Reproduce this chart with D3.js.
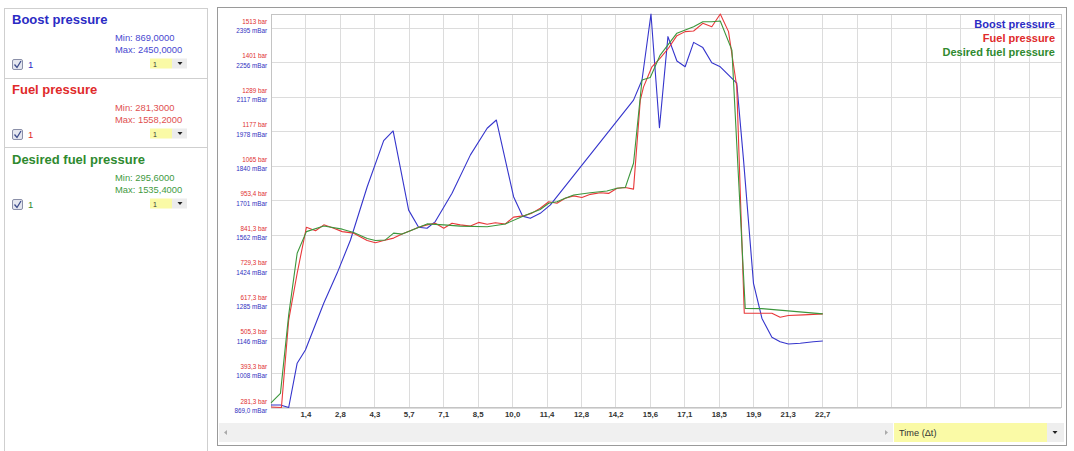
<!DOCTYPE html>
<html><head><meta charset="utf-8">
<script src="https://cdn.jsdelivr.net/npm/d3@7"></script>
<style>
html,body{margin:0;padding:0;background:#fff;}
svg{display:block;font-family:Arial,"Liberation Sans",sans-serif;}
</style></head><body>
<svg id="c" width="1074" height="451"></svg>
<script>
// ---------- data ----------
const seriesNames = ["Boost pressure", "Fuel pressure", "Desired fuel pressure"];
const seriesMin = ["869,0000", "281,3000", "295,6000"];
const seriesMax = ["2450,0000", "1558,2000", "1535,4000"];
const seriesColors = ["#2b2bc4", "#e02a2a", "#2f8a2f"];
const lineColors = ["#3535cc", "#e8383a", "#3c963c"];

// [time s, mBar]
const boostData = [[0.00,879],[0.39,879],[0.73,869],[1.08,1047],[1.42,1100],[2.18,1289],[2.73,1409],[3.28,1542],[3.97,1756],[4.65,1941],[5.04,1980],[5.68,1662],[6.09,1593],[6.44,1589],[6.78,1616],[7.47,1730],[8.23,1884],[8.92,1991],[9.30,2024],[10.01,1716],[10.38,1638],[10.70,1629],[11.11,1649],[11.53,1683],[14.96,2104],[15.31,2185],[15.68,2450],[16.03,1993],[16.38,2359],[16.75,2261],[17.09,2238],[17.44,2336],[17.82,2315],[18.19,2254],[18.54,2238],[19.22,2172],[19.50,1863],[19.91,1368],[20.26,1227],[20.67,1151],[21.01,1133],[21.35,1124],[21.84,1127],[22.38,1133],[22.77,1136]];
// [time s, bar]
const fuelData = [[0.00,283],[0.43,281.3],[0.73,565],[1.08,717],[1.46,866],[1.84,855],[2.18,874],[2.59,863],[2.94,852],[3.41,847],[3.97,823],[4.31,816],[4.65,823],[5.06,831],[5.41,844],[5.75,855],[6.09,866],[6.44,874],[6.78,879],[7.13,863],[7.47,879],[7.81,874],[8.23,870],[8.57,882],[8.92,876],[9.26,881],[9.67,877],[10.01,899],[10.42,903],[10.77,912],[11.11,928],[11.46,949],[11.80,944],[12.14,960],[12.49,968],[12.83,963],[13.18,973],[13.59,978],[13.93,976],[14.28,993],[14.62,995],[14.96,990],[15.24,1279],[15.37,1321],[15.72,1387],[16.06,1415],[16.40,1447],[16.75,1488],[17.09,1501],[17.44,1503],[17.82,1528],[18.19,1517],[18.54,1558.2],[18.88,1501],[19.22,1322],[19.53,587],[19.91,587],[20.26,587],[20.67,587],[21.01,574],[21.35,580],[21.97,582],[22.77,585]];
// [time s, bar]
const desiredData = [[0.00,296],[0.39,327],[0.73,582],[1.08,782],[1.46,852],[2.18,870],[2.94,860],[3.41,849],[3.97,830],[4.31,823],[4.72,825],[5.06,847],[5.41,844],[5.75,855],[6.44,877],[7.13,874],[7.81,870],[8.92,868],[9.67,877],[10.42,903],[11.11,924],[11.46,944],[11.80,949],[12.14,960],[12.49,971],[13.18,978],[13.86,984],[14.28,993],[14.62,995],[14.96,1074],[15.31,1344],[15.65,1352],[16.06,1425],[16.75,1496],[17.44,1517],[17.82,1533],[18.19,1533],[18.54,1535.4],[19.02,1441],[19.57,603],[20.26,602],[22.77,585]];

const fuelTicks = [281.3,393.3,505.3,617.3,729.3,841.3,953.4,1065,1177,1289,1401,1513];
const fuelTickLabels = ["281,3 bar","393,3 bar","505,3 bar","617,3 bar","729,3 bar","841,3 bar","953,4 bar","1065 bar","1177 bar","1289 bar","1401 bar","1513 bar"];
const boostTicks = [869,1008,1146,1285,1424,1562,1701,1840,1978,2117,2256,2395];
const boostTickLabels = ["869,0 mBar","1008 mBar","1146 mBar","1285 mBar","1424 mBar","1562 mBar","1701 mBar","1840 mBar","1978 mBar","2117 mBar","2256 mBar","2395 mBar"];
const xTickStep = 1.4215;
const xTickLabels = ["1,4","2,8","4,3","5,7","7,1","8,5","10,0","11,4","12,8","14,2","15,6","17,1","18,5","19,9","21,3","22,7"];
const xAxisTitle = "Time (\u0394t)";

// ---------- layout ----------
const svg = d3.select("#c");
const P = {l:271, r:1061, t:14, b:407.5};
const x = d3.scaleLinear([0, 32.6], [P.l, P.r]);
const yFuel = d3.scaleLinear([281.3, 1558.2], [P.b, P.t]);
const yBoost = d3.scaleLinear([869, 2450], [P.b, P.t]);

// left panel
svg.append("rect").attr("x",4.5).attr("y",8.5).attr("width",203).attr("height",450)
  .attr("fill","#fff").attr("stroke","#cfcfcf");
[78.5,147.5].forEach(yy => svg.append("line").attr("x1",5).attr("x2",207).attr("y1",yy).attr("y2",yy).attr("stroke","#cfcfcf"));

const minMaxColors = ["#4848d0","#e05050","#3f9a3f"];
seriesNames.forEach((name,i) => {
  const oy = i*70;
  const g = svg.append("g").attr("transform",`translate(0,${oy})`);
  g.append("text").attr("x",12).attr("y",24).attr("font-size",13).attr("font-weight","bold")
    .attr("fill",seriesColors[i]).text(name);
  g.append("text").attr("x",115).attr("y",40.5).attr("font-size",9.4).attr("fill",minMaxColors[i]).text("Min: "+seriesMin[i]);
  g.append("text").attr("x",115).attr("y",52.5).attr("font-size",9.4).attr("fill",minMaxColors[i]).text("Max: "+seriesMax[i]);
  // checkbox
  g.append("rect").attr("x",12.5).attr("y",59.5).attr("width",10).attr("height",10).attr("rx",1.5)
    .attr("fill","#e4e6ef").attr("stroke","#8a8fa8");
  g.append("path").attr("d","M14.5,64.5 L17,67.5 L21,61").attr("fill","none").attr("stroke","#3b4a8a").attr("stroke-width",1.3);
  g.append("text").attr("x",28).attr("y",68).attr("font-size",9.5).attr("fill",seriesColors[i]).text("1");
  // dropdown
  g.append("rect").attr("x",150).attr("y",58.5).attr("width",22).attr("height",10).attr("fill","#fafaa6");
  g.append("rect").attr("x",172).attr("y",58.5).attr("width",15).attr("height",10).attr("fill","#ececec");
  g.append("text").attr("x",153).attr("y",66.5).attr("font-size",7).attr("fill","#333").text("1");
  g.append("path").attr("d","M177.5,62 L182.5,62 L180,65 Z").attr("fill","#222");
});

// chart panel
svg.append("rect").attr("x",217.5).attr("y",7.5).attr("width",849).attr("height",438)
  .attr("fill","#fff").attr("stroke","#9a9a9a");

// grid
const gridG = svg.append("g");
fuelTicks.forEach(v => gridG.append("line").attr("x1",P.l).attr("x2",P.r)
  .attr("y1",Math.round(yFuel(v))+0.5).attr("y2",Math.round(yFuel(v))+0.5).attr("stroke","#dcdcdc"));
const xGridVals = d3.range(1, 23).map(k => k*xTickStep);
xGridVals.forEach(v => gridG.append("line").attr("x1",Math.round(x(v))+0.5).attr("x2",Math.round(x(v))+0.5)
  .attr("y1",P.t).attr("y2",P.b).attr("stroke","#dcdcdc"));
svg.append("rect").attr("x",P.l+0.5).attr("y",P.t+0.5).attr("width",P.r-P.l).attr("height",P.b-P.t-0.5)
  .attr("fill","none").attr("stroke","#c4c4c4");

// y axes (two labels per gridline)
const yAxFuel = d3.axisLeft(yFuel).tickValues(fuelTicks).tickSize(0).tickPadding(4)
  .tickFormat((d,i) => fuelTickLabels[i]);
const gF = svg.append("g").attr("transform",`translate(${P.l},0)`).call(yAxFuel);
gF.select(".domain").remove();
gF.selectAll("text").attr("dy",null).attr("y",-4.5).attr("font-size",6.3).attr("fill","#e03030")
  .attr("font-family","Arial,'Liberation Sans',sans-serif");

const yAxBoost = d3.axisLeft(yBoost).tickValues(boostTicks).tickSize(0).tickPadding(4)
  .tickFormat((d,i) => boostTickLabels[i]);
const gB = svg.append("g").attr("transform",`translate(${P.l},0)`).call(yAxBoost);
gB.select(".domain").remove();
gB.selectAll("text").attr("dy",null).attr("y",4.8).attr("font-size",6.3).attr("fill","#3030c0")
  .attr("font-family","Arial,'Liberation Sans',sans-serif");

// x axis
const xTickVals = xTickLabels.map((_,i) => (i+1)*xTickStep);
const xAx = d3.axisBottom(x).tickValues(xTickVals).tickSize(0).tickPadding(4)
  .tickFormat((d,i) => xTickLabels[i]);
const gX = svg.append("g").attr("transform",`translate(0,${P.b})`).call(xAx);
gX.select(".domain").remove();
gX.selectAll("text").attr("font-size",7.8).attr("font-weight","bold").attr("fill","#333")
  .attr("font-family","Arial,'Liberation Sans',sans-serif");

// lines
const mk = ys => d3.line().x(d => x(d[0])).y(d => ys(d[1]));
const linesG = svg.append("g").attr("fill","none").attr("stroke-width",1.1).attr("stroke-linejoin","round");
linesG.append("path").datum(boostData).attr("d",mk(yBoost)).attr("stroke",lineColors[0]);
linesG.append("path").datum(fuelData).attr("d",mk(yFuel)).attr("stroke",lineColors[1]);
linesG.append("path").datum(desiredData).attr("d",mk(yFuel)).attr("stroke",lineColors[2]);

// legend
seriesNames.forEach((name,i) => {
  svg.append("text").attr("x",1055).attr("y",28 + i*14).attr("text-anchor","end")
    .attr("font-size",11).attr("font-weight","bold").attr("fill",seriesColors[i]).text(name);
});

// scrollbar + x-axis selector
svg.append("rect").attr("x",219).attr("y",423).attr("width",674).attr("height",19).attr("fill","#f0f0f0");
svg.append("path").attr("d","M224,432.5 L227,430 L227,435 Z").attr("fill","#aaa");
svg.append("path").attr("d","M888,432.5 L885,430 L885,435 Z").attr("fill","#aaa");
svg.append("rect").attr("x",894).attr("y",423).attr("width",153).attr("height",19).attr("fill","#fafaa6");
svg.append("rect").attr("x",1047).attr("y",423).attr("width",17).attr("height",19).attr("fill","#eeeeee");
svg.append("text").attr("x",899).attr("y",436).attr("font-size",9.2).attr("fill","#333").text(xAxisTitle);
svg.append("path").attr("d","M1052.5,431 L1057.5,431 L1055,434 Z").attr("fill","#222");
</script>
</body></html>
